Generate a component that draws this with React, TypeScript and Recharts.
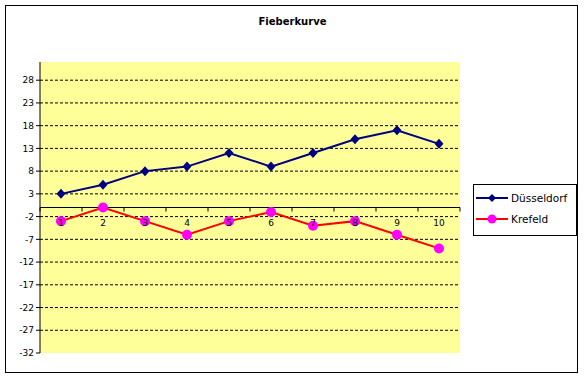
import React from 'react';
import { LineChart, Line, XAxis, YAxis, CartesianGrid, ReferenceLine, ReferenceDot } from 'recharts';

const days = [1, 2, 3, 4, 5, 6, 7, 8, 9, 10];
const duesseldorf = [3, 5, 8, 9, 12, 9, 12, 15, 17, 14];
const krefeld = [-3, 0, -3, -6, -3, -1, -4, -3, -6, -9];
const yTicks = [-32, -27, -22, -17, -12, -7, -2, 3, 8, 13, 18, 23, 28];
const tickBounds = [0.5, 1.5, 2.5, 3.5, 4.5, 5.5, 6.5, 7.5, 8.5, 9.5, 10.5];

const data = days.map((d, i) => ({ day: d, 'Düsseldorf': duesseldorf[i], Krefeld: krefeld[i] }));

const FONT = '"DejaVu Sans", Tahoma, sans-serif';

const Diamond = (p: any) => {
  const { cx, cy, index } = p;
  if (cx == null || cy == null) return <g key={index} />;
  return <path key={index} d={`M${cx},${cy - 5} L${cx + 4.5},${cy} L${cx},${cy + 5} L${cx - 4.5},${cy} Z`} fill="#000080" />;
};

const Dot = (p: any) => {
  const { cx, cy, index } = p;
  if (cx == null || cy == null) return <g key={index} />;
  return <circle key={index} cx={cx} cy={cy} r={5} fill="#FF00FF" />;
};

const LegendBox = () => (
  <div style={{ position: 'absolute', left: 473, top: 184, width: 104, height: 52, border: '1px solid #000', background: '#fff', boxSizing: 'border-box' }}>
    <svg width={102} height={50} style={{ display: 'block' }}>
      <line x1={2} y1={13} x2={34} y2={13} stroke="#000080" strokeWidth={2} />
      <path d="M18,9 L22,13 L18,17 L14,13 Z" fill="#000080" />
      <text x={37} y={17} fontSize={10.5} fontFamily={FONT} fill="#000">Düsseldorf</text>
      <line x1={2} y1={34} x2={34} y2={34} stroke="#FF0000" strokeWidth={2} />
      <circle cx={18} cy={34} r={4.5} fill="#FF00FF" />
      <text x={37} y={38} fontSize={10.5} fontFamily={FONT} fill="#000">Krefeld</text>
    </svg>
  </div>
);

export default function App() {
  return (
    <div style={{ position: 'absolute', left: 0, top: 0, width: 585, height: 378, background: '#fff' }}>
      <div style={{ position: 'absolute', left: 5, top: 5, width: 573, height: 368, border: '1px solid #000', boxSizing: 'border-box' }} />
      <div style={{ position: 'absolute', left: 0, top: 16, width: 585, textAlign: 'center', fontFamily: FONT, fontSize: 10, fontWeight: 'bold', color: '#000' }}>
        Fieberkurve
      </div>
      <LineChart width={585} height={378} data={data} margin={{ top: 62, right: 125, bottom: 25, left: 0 }} style={{ position: 'absolute', left: 0, top: 0 }}>
        <CartesianGrid
          vertical={false}
          horizontalValues={yTicks.filter((t) => t !== -32)}
          fill="#FFFF99"
          fillOpacity={1}
          stroke="#000"
          strokeDasharray="3 2"
        />
        <XAxis dataKey="day" type="number" domain={[0.5, 10.5]} hide />
        <YAxis
          type="number"
          domain={[-32, 32]}
          ticks={yTicks}
          interval={0}
          width={40}
          axisLine={{ stroke: '#000' }}
          tickLine={{ stroke: '#000' }}
          tickSize={4}
          tick={{ fill: '#000', fontSize: 9, fontFamily: FONT }}
        />
        <ReferenceLine y={0} stroke="#000" strokeWidth={1} />
        {tickBounds.map((b) => (
          <ReferenceDot
            key={'t' + b}
            x={b}
            y={0}
            shape={(p: any) => <line x1={p.cx} y1={p.cy} x2={p.cx} y2={p.cy + 4} stroke="#000" />}
          />
        ))}
        <Line
          dataKey="Düsseldorf"
          stroke="#000080"
          strokeWidth={2}
          dot={Diamond}
          activeDot={false}
          isAnimationActive={false}
        />
        <Line
          dataKey="Krefeld"
          stroke="#FF0000"
          strokeWidth={2}
          dot={Dot}
          activeDot={false}
          isAnimationActive={false}
        />
        {days.map((d) => (
          <ReferenceDot
            key={'l' + d}
            x={d}
            y={0}
            zIndex={2000}
            shape={(p: any) => (
              <text x={p.cx} y={p.cy + 18} textAnchor="middle" fontSize={9} fontFamily={FONT} fill="#000">
                {d}
              </text>
            )}
          />
        ))}
      </LineChart>
      <LegendBox />
    </div>
  );
}
